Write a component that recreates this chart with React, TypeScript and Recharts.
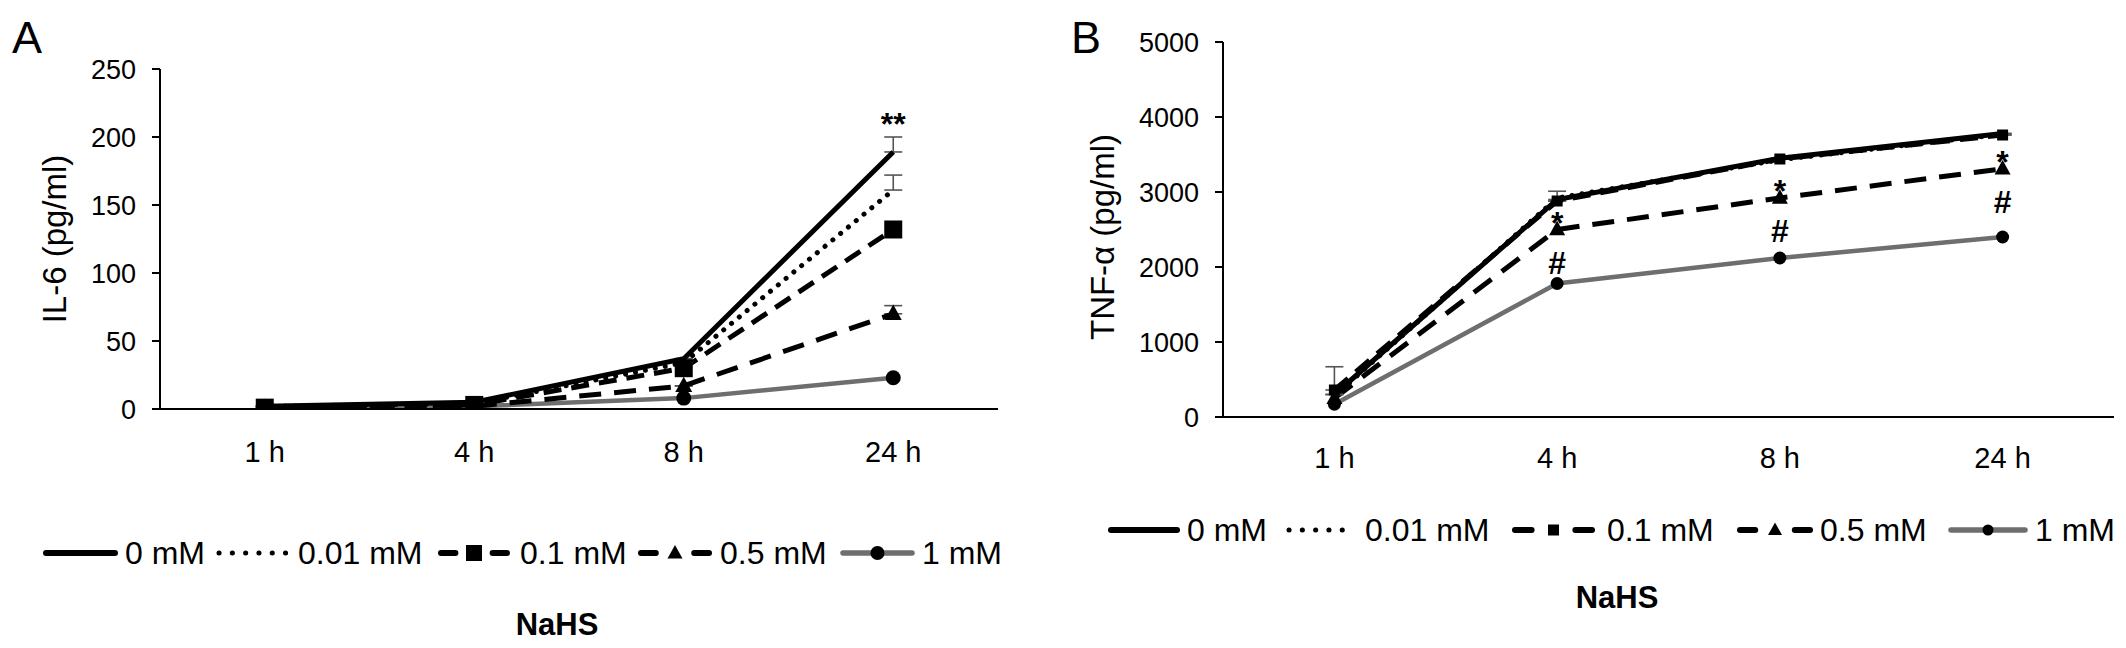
import React from "react";
import { LineChart, Line, XAxis, YAxis, ErrorBar, LabelList } from "recharts";

// categories
const hours = ["1 h", "4 h", "8 h", "24 h"];
const doses = ["0 mM", "0.01 mM", "0.1 mM", "0.5 mM", "1 mM"];

// IL-6 (pg/ml), panel A
const il6_0 = [2, 5, 37, 189];
const il6_001 = [2, 4, 34, 161];
const il6_01 = [1, 3, 30, 132];
const il6_05 = [1, 2, 17, 70];
const il6_1 = [1, 2, 8, 23];
const il6Err_0 = [0, 0, 0, 11];
const il6Err_001 = [0, 0, 0, 11];
const il6Err_05 = [0, 0, 0, 6];
const il6Sig_0 = ["", "", "", "**"];
const il6Ticks = [0, 50, 100, 150, 200, 250];

// TNF-α (pg/ml), panel B
const tnf_0 = [300, 2900, 3450, 3780];
const tnf_001 = [280, 2920, 3430, 3770];
const tnf_01 = [360, 2880, 3440, 3760];
const tnf_05 = [250, 2500, 2920, 3310];
const tnf_1 = [170, 1780, 2120, 2400];
const tnfErr_0 = [0, 110, 0, 0];
const tnfErr_01 = [310, 0, 0, 0];
const tnfStar_05 = ["", "*", "*", "*"];
const tnfHash_05 = ["", "#", "#", "#"];
const tnfTicks = [0, 1000, 2000, 3000, 4000, 5000];

const FONT = "'Liberation Sans', Arial, sans-serif";
const keys = ["d0", "d001", "d01", "d05", "d1"];

const il6Data = hours.map((h, i) => ({
  hour: h,
  d0: il6_0[i],
  d001: il6_001[i],
  d01: il6_01[i],
  d05: il6_05[i],
  d1: il6_1[i],
  e0: [0, il6Err_0[i]],
  e001: [0, il6Err_001[i]],
  e05: [0, il6Err_05[i]],
  sig0: il6Sig_0[i],
}));

const tnfData = hours.map((h, i) => ({
  hour: h,
  d0: tnf_0[i],
  d001: tnf_001[i],
  d01: tnf_01[i],
  d05: tnf_05[i],
  d1: tnf_1[i],
  e0: [0, tnfErr_0[i]],
  e01: [0, tnfErr_01[i]],
  star05: tnfStar_05[i],
  hash05: tnfHash_05[i],
}));

type MarkerKind = "none" | "square" | "triangle" | "circle";

const styles: Record<string, { stroke: string; width: number; dash?: string; marker: MarkerKind }> = {
  d0: { stroke: "#000", width: 5, marker: "none" },
  d001: { stroke: "#000", width: 5, dash: "0.1 10", marker: "none" },
  d01: { stroke: "#000", width: 5, dash: "18 10", marker: "square" },
  d05: { stroke: "#000", width: 5, dash: "22 13", marker: "triangle" },
  d1: { stroke: "#6e6e6e", width: 4.5, marker: "circle" },
};

function Marker({ kind, x, y, size }: { kind: MarkerKind; x: number; y: number; size: number }) {
  if (kind === "square")
    return <rect x={x - size / 2} y={y - size / 2} width={size} height={size} fill="#000" />;
  if (kind === "triangle") {
    const h = size * 0.9;
    return (
      <polygon
        points={`${x},${y - h * 0.6} ${x - size / 2},${y + h * 0.4} ${x + size / 2},${y + h * 0.4}`}
        fill="#000"
      />
    );
  }
  if (kind === "circle") return <circle cx={x} cy={y} r={size / 2} fill="#000" />;
  return null;
}

const dotRenderer = (kind: MarkerKind, size: number) => (p: any) => {
  const k = `${kind}-${p.index}`;
  if (kind === "none" || p.cx == null || p.cy == null) return <g key={k} />;
  return (
    <g key={k}>
      <Marker kind={kind} x={p.cx} y={p.cy} size={size} />
    </g>
  );
};

const sigLabel = (dy: number, size: number) => (p: any) => {
  const x = p.x ?? p.viewBox?.x;
  const y = p.y ?? p.viewBox?.y;
  if (!p.value || x == null || y == null) return null;
  return (
    <text x={x} y={y + dy} textAnchor="middle" fontFamily={FONT} fontSize={size} fontWeight="bold" fill="#000">
      {p.value}
    </text>
  );
};

function Series(k: string, sizes: Record<string, number>, children?: React.ReactNode) {
  const s = styles[k];
  return (
    <Line
      key={k}
      dataKey={k}
      type="linear"
      stroke={s.stroke}
      strokeWidth={s.width}
      strokeDasharray={s.dash}
      strokeLinecap={s.dash === "0.1 10" ? "round" : "butt"}
      dot={dotRenderer(s.marker, sizes[s.marker] ?? 0)}
      activeDot={false}
      isAnimationActive={false}
    >
      {children}
    </Line>
  );
}

const errStyle = { width: 9, strokeWidth: 1.6, stroke: "#555" };

function PanelA() {
  const sizes = { square: 18, triangle: 17, circle: 15 };
  return (
    <LineChart
      width={1040}
      height={648}
      data={il6Data}
      margin={{ top: 69, right: 42, bottom: 179, left: 0 }}
    >
      <XAxis
        dataKey="hour"
        height={60}
        padding={{ left: 104.75, right: 104.75 }}
        axisLine={{ stroke: "#000", strokeWidth: 2 }}
        tickLine={false}
        tickSize={0}
        tickMargin={32}
        tick={{ fontSize: 29, fill: "#000", fontFamily: FONT }}
      />
      <YAxis
        width={160}
        domain={[0, 250]}
        ticks={il6Ticks}
        allowDataOverflow
        axisLine={{ stroke: "#000", strokeWidth: 2 }}
        tickLine={{ stroke: "#000", strokeWidth: 2 }}
        tickSize={8}
        tickMargin={16}
        tick={{ fontSize: 27, fill: "#000", fontFamily: FONT }}
      />
      {Series("d1", sizes)}
      {Series("d05", sizes, <ErrorBar dataKey="e05" {...errStyle} />)}
      {Series("d01", sizes)}
      {Series("d001", sizes, <ErrorBar dataKey="e001" {...errStyle} />)}
      {Series(
        "d0",
        sizes,
        [
          <ErrorBar key="e" dataKey="e0" {...errStyle} />,
          <LabelList key="l" dataKey="sig0" content={sigLabel(-17, 32)} />,
        ]
      )}
    </LineChart>
  );
}

function PanelB() {
  const sizes = { square: 11, triangle: 16, circle: 13 };
  return (
    <LineChart
      width={1086}
      height={648}
      data={tnfData}
      margin={{ top: 42, right: 12, bottom: 171, left: 0 }}
    >
      <XAxis
        dataKey="hour"
        height={60}
        padding={{ left: 111.4, right: 111.4 }}
        axisLine={{ stroke: "#000", strokeWidth: 2 }}
        tickLine={false}
        tickSize={0}
        tickMargin={30}
        tick={{ fontSize: 29, fill: "#000", fontFamily: FONT }}
      />
      <YAxis
        width={183}
        domain={[0, 5000]}
        ticks={tnfTicks}
        allowDataOverflow
        axisLine={{ stroke: "#000", strokeWidth: 2 }}
        tickLine={{ stroke: "#000", strokeWidth: 2 }}
        tickSize={8}
        tickMargin={16}
        tick={{ fontSize: 27, fill: "#000", fontFamily: FONT }}
      />
      {Series("d1", sizes)}
      {Series(
        "d05",
        sizes,
        [
          <LabelList key="s" dataKey="star05" content={sigLabel(4, 32)} />,
          <LabelList key="h" dataKey="hash05" content={sigLabel(44, 32)} />,
        ]
      )}
      {Series("d01", sizes, <ErrorBar dataKey="e01" {...errStyle} />)}
      {Series("d001", sizes)}
      {Series("d0", sizes, <ErrorBar dataKey="e0" {...errStyle} />)}
    </LineChart>
  );
}

// legend layout: [line start, line end, text x]
const legendA = { y: 553, items: [[43, 118, 125], [217, 288, 298], [438, 510, 520], [638, 712, 720], [840, 915, 922]] };
const legendB = { y: 530, items: [[1108, 1180, 1187], [1287, 1357, 1365], [1512, 1595, 1607], [1737, 1813, 1820], [1948, 2028, 2035]] };

function Legend({ cfg, sizes }: { cfg: typeof legendA; sizes: Record<string, number> }) {
  return (
    <g>
      {keys.map((k, i) => {
        const [x1, x2, tx] = cfg.items[i];
        const s = styles[k];
        const y = cfg.y;
        const mid = (x1 + x2) / 2;
        let sample: React.ReactNode;
        if (k === "d0" || k === "d1") {
          sample = <line x1={x1 + 3} x2={x2 - 3} y1={y} y2={y} stroke={s.stroke} strokeWidth={s.width + 1} strokeLinecap="round" />;
        } else if (k === "d001") {
          sample = <line x1={x1 + 2} x2={x2 - 2} y1={y} y2={y} stroke="#000" strokeWidth={5} strokeDasharray="0.1 13.2" strokeLinecap="round" />;
        } else {
          const seg = (x2 - x1) * 0.2;
          sample = (
            <g>
              <line x1={x1 + 3} x2={x1 + 3 + seg} y1={y} y2={y} stroke="#000" strokeWidth={6} strokeLinecap="round" />
              <line x1={x2 - 3 - seg} x2={x2 - 3} y1={y} y2={y} stroke="#000" strokeWidth={6} strokeLinecap="round" />
            </g>
          );
        }
        return (
          <g key={k}>
            {sample}
            <Marker kind={s.marker} x={mid} y={y} size={sizes[s.marker] ?? 0} />
            <text x={tx} y={y + 11} fontFamily={FONT} fontSize={32} fill="#000">
              {doses[i]}
            </text>
          </g>
        );
      })}
    </g>
  );
}

export default function App() {
  return (
    <div style={{ position: "absolute", left: 0, top: 0, width: 2126, height: 648, background: "#fff" }}>
      <div style={{ position: "absolute", left: 0, top: 0 }}>
        <PanelA />
      </div>
      <div style={{ position: "absolute", left: 1040, top: 0 }}>
        <PanelB />
      </div>
      <svg width={2126} height={648} style={{ position: "absolute", left: 0, top: 0, pointerEvents: "none" }}>
        <text x={12} y={53} fontFamily={FONT} fontSize={45} fill="#000">A</text>
        <text x={1071} y={53} fontFamily={FONT} fontSize={45} fill="#000">B</text>
        <text
          transform="translate(66,239) rotate(-90)"
          textAnchor="middle"
          fontFamily={FONT}
          fontSize={33}
          fill="#000"
        >
          IL-6 (pg/ml)
        </text>
        <text
          transform="translate(1114,237) rotate(-90)"
          textAnchor="middle"
          fontFamily={FONT}
          fontSize={33}
          fill="#000"
        >
          TNF-α (pg/ml)
        </text>
        <Legend cfg={legendA} sizes={{ square: 16, triangle: 15, circle: 14 }} />
        <Legend cfg={legendB} sizes={{ square: 11, triangle: 14, circle: 11 }} />
        <text x={557} y={635} textAnchor="middle" fontFamily={FONT} fontSize={31} fontWeight="bold" fill="#000">NaHS</text>
        <text x={1617} y={608} textAnchor="middle" fontFamily={FONT} fontSize={31} fontWeight="bold" fill="#000">NaHS</text>
      </svg>
    </div>
  );
}
